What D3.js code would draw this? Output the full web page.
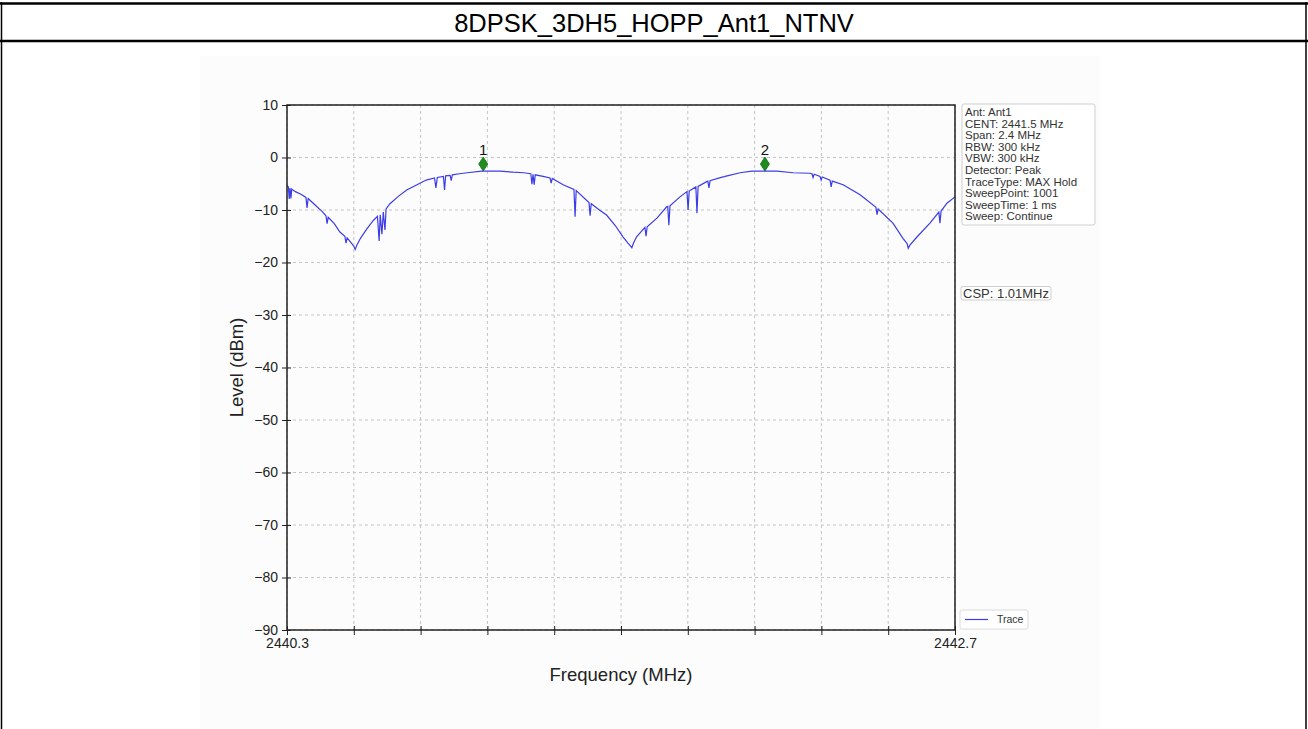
<!DOCTYPE html>
<html>
<head>
<meta charset="UTF-8">
<title>8DPSK_3DH5_HOPP_Ant1_NTNV</title>
<script src="https://d3js.org/d3.v7.min.js"></script>
<style>
  body { margin: 0; background: #fff; }
  svg text { font-family: Arial, "Liberation Sans", sans-serif; }
</style>
</head>
<body>
<svg id="chart" width="1308" height="729"></svg>
<script>
// ---- data ----
var freq = [
  2440.300, 2440.305, 2440.308, 2440.311, 2440.314, 2440.317, 2440.330, 2440.350, 2440.368, 2440.372,
  2440.376, 2440.400, 2440.425, 2440.440, 2440.444, 2440.448, 2440.470, 2440.490, 2440.508, 2440.512,
  2440.516, 2440.530, 2440.540, 2440.545, 2440.550, 2440.565, 2440.587, 2440.610, 2440.625, 2440.631,
  2440.635, 2440.641, 2440.646, 2440.652, 2440.656, 2440.670, 2440.700, 2440.730, 2440.767, 2440.800,
  2440.830, 2440.835, 2440.840, 2440.862, 2440.866, 2440.870, 2440.886, 2440.890, 2440.894, 2440.920,
  2440.947, 2441.000, 2441.065, 2441.112, 2441.150, 2441.176, 2441.180, 2441.184, 2441.188, 2441.192,
  2441.220, 2441.245, 2441.249, 2441.253, 2441.292, 2441.331, 2441.335, 2441.339, 2441.385, 2441.389,
  2441.393, 2441.420, 2441.449, 2441.480, 2441.507, 2441.525, 2441.533, 2441.539, 2441.545, 2441.556,
  2441.586, 2441.590, 2441.594, 2441.630, 2441.664, 2441.668, 2441.672, 2441.676, 2441.712, 2441.737,
  2441.741, 2441.745, 2441.769, 2441.773, 2441.777, 2441.808, 2441.812, 2441.816, 2441.820, 2441.866,
  2441.870, 2441.874, 2441.928, 2441.970, 2442.010, 2442.060, 2442.118, 2442.179, 2442.186, 2442.190,
  2442.194, 2442.215, 2442.219, 2442.223, 2442.251, 2442.255, 2442.259, 2442.298, 2442.359, 2442.416,
  2442.420, 2442.424, 2442.477, 2442.513, 2442.528, 2442.532, 2442.538, 2442.564, 2442.610, 2442.642,
  2442.646, 2442.650, 2442.671, 2442.700
];
var level = [
  -5.4, -5.6, -7.9, -5.8, -7.8, -6.0, -6.5, -7.0, -7.6, -9.6,
  -7.8, -9.0, -10.2, -11.1, -12.6, -11.4, -12.6, -14.2, -15.0, -16.3,
  -15.3, -16.2, -16.9, -17.5, -16.8, -15.3, -13.6, -12.0, -11.2, -15.9,
  -10.9, -14.6, -10.4, -13.8, -9.8, -8.8, -7.4, -6.2, -5.2, -4.3,
  -3.9, -5.8, -3.8, -3.6, -6.2, -3.5, -3.4, -4.4, -3.3, -3.1,
  -2.9, -2.6, -2.6, -2.8, -2.9, -3.1, -5.1, -3.2, -5.2, -3.3,
  -3.6, -3.9, -4.9, -4.0, -5.2, -6.1, -11.3, -6.3, -8.6, -11.1,
  -8.8, -9.9, -11.0, -13.0, -15.1, -16.3, -16.8, -17.2, -16.3, -15.1,
  -13.3, -15.0, -13.2, -11.5, -9.4, -9.3, -12.9, -9.2, -7.5, -6.5,
  -10.0, -6.4, -5.6, -10.6, -5.5, -4.6, -4.5, -5.8, -4.4, -3.7,
  -3.7, -3.6, -2.9, -2.6, -2.6, -2.6, -2.9, -3.0, -3.1, -3.8,
  -3.2, -3.6, -4.3, -3.7, -4.3, -5.6, -4.5, -5.2, -7.1, -9.5,
  -10.9, -9.8, -12.5, -15.4, -16.4, -17.3, -16.7, -15.1, -12.5, -10.4,
  -12.5, -10.2, -8.7, -7.5
];
var markerNames = ["1", "2"];
var markerFreq = [2441.005, 2442.017];
var markerLevel = [-1.25, -1.25];

var yTicks = [10, 0, -10, -20, -30, -40, -50, -60, -70, -80, -90];
var xTicks = [2440.3, 2440.54, 2440.78, 2441.02, 2441.26, 2441.5, 2441.74, 2441.98, 2442.22, 2442.46, 2442.7];
var xTickLabels = ["2440.3", "", "", "", "", "", "", "", "", "", "2442.7"];

var infoLines = ["Ant: Ant1", "CENT: 2441.5 MHz", "Span: 2.4 MHz", "RBW: 300 kHz", "VBW: 300 kHz",
  "Detector: Peak", "TraceType: MAX Hold", "SweepPoint: 1001", "SweepTime: 1 ms", "Sweep: Continue"];
var cspText = "CSP: 1.01MHz";

// ---- page frame ----
var svg = d3.select("#chart");

svg.append("rect").attr("x", 200).attr("y", 56).attr("width", 900).attr("height", 673).attr("fill", "#fcfcfc");

svg.append("line").attr("x1", 0).attr("x2", 1308).attr("y1", 3.5).attr("y2", 3.5).attr("stroke", "#000").attr("stroke-width", 2.5);
svg.append("line").attr("x1", 0).attr("x2", 1308).attr("y1", 41).attr("y2", 41).attr("stroke", "#000").attr("stroke-width", 2.5);
svg.append("line").attr("x1", 1.5).attr("x2", 1.5).attr("y1", 2).attr("y2", 729).attr("stroke", "#000").attr("stroke-width", 1.5);
svg.append("line").attr("x1", 1306).attr("x2", 1306).attr("y1", 2).attr("y2", 729).attr("stroke", "#000").attr("stroke-width", 1.5);

svg.append("text").attr("x", 654).attr("y", 32).attr("text-anchor", "middle")
  .attr("font-size", 25.5).attr("fill", "#000").text("8DPSK_3DH5_HOPP_Ant1_NTNV");

// ---- plot ----
var pLeft = 287, pRight = 955, pTop = 105, pBottom = 630;
var x = d3.scaleLinear().domain([2440.3, 2442.7]).range([pLeft, pRight]);
var y = d3.scaleLinear().domain([-90, 10]).range([pBottom, pTop]);

var grid = svg.append("g");
grid.selectAll(".gx").data(xTicks).enter().append("line")
  .attr("x1", d => x(d)).attr("x2", d => x(d)).attr("y1", pTop).attr("y2", pBottom)
  .attr("stroke", "#c4c4c4").attr("stroke-dasharray", "3,3").attr("stroke-width", 1);
grid.selectAll(".gy").data(yTicks).enter().append("line")
  .attr("x1", pLeft).attr("x2", pRight).attr("y1", d => y(d)).attr("y2", d => y(d))
  .attr("stroke", "#c4c4c4").attr("stroke-dasharray", "3,3").attr("stroke-width", 1);

// trace
var line = d3.line().x((d, i) => x(freq[i])).y(d => y(d));
svg.append("path").datum(level).attr("d", line)
  .attr("fill", "none").attr("stroke", "#3c3ce8").attr("stroke-width", 1.2);

// frame
svg.append("rect").attr("x", pLeft).attr("y", pTop).attr("width", pRight - pLeft).attr("height", pBottom - pTop)
  .attr("fill", "none").attr("stroke", "#222").attr("stroke-width", 1.5);

// axes (ticks crossing the frame)
svg.append("g").attr("transform", "translate(" + pLeft + ",0)")
  .call(d3.axisLeft(y).tickValues(yTicks).tickSize(5).tickPadding(4));
svg.append("g").attr("transform", "translate(" + pLeft + ",0)")
  .call(d3.axisLeft(y).tickValues(yTicks).tickSize(-4).tickFormat(""));
svg.append("g").attr("transform", "translate(0," + pBottom + ")")
  .call(d3.axisBottom(x).tickValues(xTicks).tickSize(5).tickPadding(3)
    .tickFormat((d, i) => xTickLabels[i]));
svg.append("g").attr("transform", "translate(0," + pBottom + ")")
  .call(d3.axisBottom(x).tickValues(xTicks).tickSize(-4).tickFormat(""));
svg.selectAll(".domain").remove();
svg.selectAll(".tick line").attr("stroke", "#222");
svg.selectAll(".tick text").attr("font-size", 14).attr("fill", "#222")
  .attr("font-family", "Arial, 'Liberation Sans', sans-serif");

svg.append("text").attr("transform", "translate(243," + ((pTop + pBottom) / 2) + ") rotate(-90)")
  .attr("text-anchor", "middle").attr("font-size", 18.5).attr("fill", "#222").text("Level (dBm)");
svg.append("text").attr("x", (pLeft + pRight) / 2).attr("y", 681).attr("text-anchor", "middle")
  .attr("font-size", 18.5).attr("fill", "#222").text("Frequency (MHz)");

// markers
var mk = svg.append("g");
mk.selectAll("path").data(markerFreq).enter().append("path")
  .attr("d", "M0,-7 L4.5,0 L0,7 L-4.5,0 Z")
  .attr("transform", (d, i) => "translate(" + x(d) + "," + y(markerLevel[i]) + ")")
  .attr("fill", "#1e8c1e").attr("stroke", "#0d6b0d").attr("stroke-width", 0.8);
mk.selectAll("text").data(markerFreq).enter().append("text")
  .attr("x", d => x(d)).attr("y", (d, i) => y(markerLevel[i]) - 9)
  .attr("text-anchor", "middle").attr("font-size", 15).attr("fill", "#111")
  .text((d, i) => markerNames[i]);

// info box
var info = svg.append("g");
info.append("rect").attr("x", 962).attr("y", 104).attr("width", 133).attr("height", 121).attr("rx", 2)
  .attr("fill", "#fff").attr("stroke", "#cfcfcf");
info.selectAll("text").data(infoLines).enter().append("text")
  .attr("x", 965).attr("y", (d, i) => 116 + i * 11.6)
  .attr("font-size", 11.5).attr("fill", "#333").text(d => d);

var csp = svg.append("g");
csp.append("rect").attr("x", 961).attr("y", 286.5).attr("width", 90).attr("height", 13.5).attr("rx", 2)
  .attr("fill", "#fff").attr("stroke", "#cfcfcf");
csp.append("text").attr("x", 963).attr("y", 297.7).attr("font-size", 13).attr("fill", "#333").text(cspText);

// legend
var lg = svg.append("g");
lg.append("rect").attr("x", 960).attr("y", 610).attr("width", 68).attr("height", 19).attr("rx", 2)
  .attr("fill", "#fff").attr("stroke", "#dcdcdc");
lg.append("line").attr("x1", 965).attr("x2", 988).attr("y1", 619.5).attr("y2", 619.5)
  .attr("stroke", "#3c3ce8").attr("stroke-width", 1.2);
lg.append("text").attr("x", 997).attr("y", 623).attr("font-size", 10.5).attr("fill", "#333").text("Trace");
</script>
</body>
</html>
